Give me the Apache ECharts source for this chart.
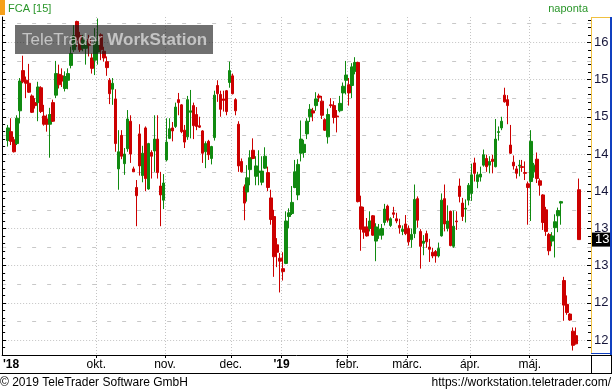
<!DOCTYPE html>
<html><head><meta charset="utf-8">
<script src="https://cdn.jsdelivr.net/npm/echarts@6/dist/echarts.min.js"></script>
<style>html,body{margin:0;padding:0;background:#fff}#c{width:612px;height:392px}</style>
</head><body><div id="c"></div>
<script>
const title = 'FCA [15]';
const periodLabel = 'naponta';
const watermarkA = 'TeleTrader ';
const watermarkB = 'WorkStation';
const footerLeft = '\u00a9 2019 TeleTrader Software GmbH';
const footerRight = 'https://workstation.teletrader.com/';

// daily candles, one per trading day (index 0 = first visible day)
const opens = [14.68,14.80,14.69,14.64,15.08,15.62,15.49,15.45,15.28,15.19,15.19,15.39,15.01,14.97,14.90,15.19,15.29,15.57,15.55,15.38,15.49,15.69,15.90,16.28,16.09,15.92,15.92,16.04,15.79,15.76,15.87,16.10,15.88,15.74,15.49,15.37,15.24,14.30,14.75,14.37,14.57,14.94,14.30,14.05,14.77,14.21,14.85,14.03,14.52,14.54,14.70,14.07,13.88,14.42,14.71,14.85,14.87,15.23,15.16,14.82,14.73,15.06,15.15,15.03,14.88,14.81,14.53,14.67,14.44,14.72,15.42,15.30,15.24,15.35,15.46,15.55,15.23,14.90,14.40,14.06,13.99,14.29,14.55,14.20,14.25,14.12,14.31,14.25,13.91,13.66,13.28,13.10,12.96,13.03,13.66,13.70,14.05,13.95,14.51,14.52,14.77,15.00,15.08,15.15,15.28,15.21,14.96,14.73,15.16,15.15,15.01,15.08,15.32,15.49,15.43,15.42,15.61,15.73,13.79,13.52,13.52,13.50,13.67,13.33,13.41,13.41,13.58,13.80,13.54,13.71,13.63,13.54,13.46,13.56,13.50,13.35,13.43,13.90,13.46,13.30,13.43,13.25,13.18,13.19,13.13,13.40,13.90,13.50,13.73,13.26,13.60,14.07,13.84,13.76,13.88,13.97,14.38,14.13,14.19,14.35,14.44,14.35,14.43,14.33,14.79,14.85,15.29,15.23,14.62,14.39,14.30,14.34,14.33,14.25,14.10,14.13,14.26,14.43,14.14,13.95,13.75,13.42,13.33,13.51,13.67,13.84,12.80,12.48,12.35,12.12,12.06,14.02];
const closes = [14.85,14.67,14.53,14.98,15.48,15.47,15.45,15.33,15.06,15.15,15.40,15.07,14.90,14.90,15.03,14.94,15.58,15.43,15.48,15.54,15.58,15.85,16.09,16.03,15.90,16.03,16.01,15.96,15.65,15.99,16.01,15.90,15.79,15.66,15.31,15.45,14.64,14.53,14.47,14.50,14.97,14.50,14.26,13.94,14.34,14.51,14.17,14.64,14.47,14.70,14.25,13.95,14.11,14.66,14.84,14.81,15.13,15.19,14.80,14.66,15.23,15.08,14.88,14.87,14.86,14.51,14.64,14.49,14.60,15.29,15.31,15.10,15.22,15.07,15.62,15.31,15.08,14.34,14.26,13.84,14.18,14.45,14.44,14.34,14.27,14.27,14.47,14.05,13.62,13.12,13.18,13.06,12.92,13.60,13.71,13.85,14.26,14.36,14.70,14.63,14.94,15.10,15.05,15.24,15.26,15.02,14.82,15.03,15.15,14.99,15.00,15.18,15.41,15.56,15.32,15.67,15.73,13.86,13.49,13.45,13.40,13.60,13.41,13.52,13.49,13.50,13.76,13.61,13.63,13.69,13.60,13.51,13.49,13.43,13.32,13.42,13.89,13.61,13.26,13.33,13.32,13.22,13.13,13.13,13.23,13.88,13.56,13.60,13.27,13.53,13.59,13.93,13.66,13.77,14.08,14.22,14.24,14.22,14.23,14.49,14.33,14.40,14.40,14.70,14.80,14.94,15.20,15.15,14.51,14.34,14.24,14.35,14.32,14.24,14.05,14.67,14.35,14.17,14.08,13.58,13.46,13.20,13.40,13.59,13.74,13.86,12.47,12.37,12.27,11.93,11.95,13.35];
const lows = [14.60,14.62,14.52,14.62,14.91,15.45,15.25,15.32,15.05,15.11,14.94,15.05,14.88,14.80,14.45,14.93,15.25,15.38,15.40,15.34,15.37,15.65,15.87,15.94,15.87,15.88,15.70,15.81,15.58,15.56,15.70,15.76,15.74,15.55,15.17,15.16,14.53,14.02,14.43,14.22,14.53,14.38,14.26,13.53,14.21,14.12,14.00,14.02,14.17,14.26,14.17,13.53,13.76,14.40,14.70,14.67,14.85,15.02,14.78,14.58,14.69,14.71,14.70,14.82,14.85,14.38,14.31,14.42,14.36,14.68,15.20,15.00,15.07,15.02,15.39,15.30,15.02,14.26,14.25,13.61,13.86,14.08,14.43,14.08,14.08,14.08,14.30,14.00,13.55,12.85,12.98,12.64,12.80,13.02,13.50,13.68,14.04,13.88,14.40,14.45,14.70,14.93,14.94,15.08,15.20,14.97,14.81,14.64,15.12,14.91,14.79,15.06,15.08,15.30,15.15,15.25,15.57,13.85,13.20,13.36,13.39,13.46,13.40,13.06,13.36,13.35,13.54,13.58,13.52,13.64,13.57,13.43,13.41,13.41,13.27,13.24,13.37,13.51,12.96,13.14,13.24,13.05,13.10,13.04,13.11,13.39,13.46,13.46,13.26,13.24,13.48,13.85,13.60,13.58,13.81,13.87,14.13,14.04,14.13,14.33,14.26,14.24,14.24,14.32,14.68,14.82,15.19,14.90,14.50,14.29,14.17,14.20,14.26,14.15,13.55,13.60,14.18,14.11,13.94,13.48,13.40,13.14,13.26,13.11,13.45,13.55,12.26,12.34,12.26,11.86,11.94,13.35];
const highs = [14.89,14.98,14.73,15.02,15.52,15.82,15.54,15.71,15.30,15.25,15.47,15.41,15.16,15.03,15.12,15.23,15.75,15.70,15.65,15.61,15.65,15.94,16.23,16.29,16.14,16.10,16.12,16.10,15.85,16.19,16.32,16.12,15.94,15.81,15.52,15.52,15.37,14.82,14.82,14.58,15.09,15.02,14.33,14.15,14.90,14.61,14.87,14.65,14.55,15.02,15.02,14.26,14.23,14.98,14.98,14.93,15.19,15.32,15.17,14.89,15.28,15.36,15.19,15.13,15.00,14.82,14.67,14.69,14.61,15.35,15.49,15.35,15.35,15.36,15.74,15.58,15.25,14.94,14.44,14.09,14.35,14.55,14.71,14.47,14.55,14.47,14.59,14.33,14.02,13.75,13.37,13.17,13.18,13.73,13.77,14.07,14.42,14.43,14.95,14.69,14.98,15.17,15.12,15.33,15.31,15.28,14.98,15.11,15.25,15.21,15.09,15.28,15.46,15.75,15.52,15.72,15.80,15.74,13.94,13.79,13.64,13.73,13.68,13.57,13.56,13.56,13.83,13.82,13.65,13.79,13.71,13.63,13.54,13.68,13.54,13.50,14.09,13.93,13.49,13.41,13.47,13.36,13.24,13.21,13.31,13.97,14.09,13.81,13.74,13.74,13.73,14.17,13.91,13.89,14.11,14.37,14.45,14.26,14.33,14.56,14.49,14.47,14.49,14.97,14.87,15.00,15.39,15.29,14.89,14.48,14.34,14.42,14.42,14.40,14.13,14.82,14.38,14.52,14.17,13.96,13.79,13.44,13.45,13.69,13.78,13.87,12.85,12.60,12.36,12.17,12.17,14.17];

// x axis: month boundaries (in trading-day index units) and labels
const monthBounds = [29.5, 52.5, 74.5, 91.5, 113.5, 133.5, 154.5, 174.5];
const xLabelPos = [1, 29.5, 52.5, 74.5, 91.5, 113.5, 133.5, 154.5, 174.5];
const xLabels = ["'18", 'okt.', 'nov.', 'dec.', "'19", 'febr.', 'márc.', 'ápr.', 'máj.'];
const yearLabels = ["'18", "'19"];

// y axis ticks and their (truncated) labels
const yTickValues = [12, 12.5, 13, 13.5, 14, 14.5, 15, 15.5, 16];
const yTickLabels = ['12', '12', '13', '13', '14', '14', '15', '15', '16'];
const yQuarterLines = [12.25, 12.75, 13.25, 13.75, 14.25, 14.75, 15.25, 15.75, 16.25];
const lastPriceLabel = '13';

const Y_MIN = 11.8, Y_MAX = 16.34;
const yMinorTicks = [];
for (let k = 118; k <= 163; k++) yMinorTicks.push(k / 10);

const FONT = 'Arial, "Liberation Sans", sans-serif';
const candleData = opens.map((o, i) => [i, o, closes[i], lows[i], highs[i]]);

function yAxisBase(extra) {
  return Object.assign({
    type: 'value', min: Y_MIN, max: Y_MAX, scale: true,
    axisLine: { show: false, onZero: false },
    axisTick: { show: false },
    axisLabel: { show: false },
    splitLine: { show: false }
  }, extra);
}

const WM = 'rgba(228,228,228,0.72)';

const chart = echarts.init(document.getElementById('c'), null, { renderer: 'canvas' });
chart.setOption({
  animation: false,
  backgroundColor: '#fff',
  grid: { left: 0, right: 21, top: 17, bottom: 37, containLabel: false },
  xAxis: {
    type: 'value', min: -2, max: 195,
    axisLine: { show: true, onZero: false, lineStyle: { color: '#000', width: 1 } },
    axisTick: { show: true, customValues: monthBounds, length: 3, lineStyle: { color: '#000' } },
    axisLabel: {
      customValues: xLabelPos, margin: 4, color: '#000', fontSize: 12, fontFamily: FONT,
      formatter: function (v) {
        const idx = xLabelPos.indexOf(v);
        const t = idx >= 0 ? xLabels[idx] : '';
        return yearLabels.indexOf(t) >= 0 ? '{b|' + t + '}' : t;
      },
      rich: { b: { fontWeight: 'bold', fontSize: 12, fontFamily: FONT, color: '#000' } }
    },
    splitLine: { show: true, lineStyle: { color: '#c4c4c4', type: [1, 2], width: 1 } }
  },
  yAxis: [
    yAxisBase({
      position: 'right',
      axisTick: { show: true, inside: true, length: 4, customValues: yTickValues, lineStyle: { color: '#000' } },
      axisLabel: {
        show: true, customValues: yTickValues, margin: 3, color: '#15153a', fontSize: 13, fontFamily: FONT,
        formatter: function (v) { const i = yTickValues.indexOf(v); return i >= 0 ? yTickLabels[i] : ''; }
      },
      splitLine: { show: true, lineStyle: { color: '#c4c4c4', type: [1, 2], width: 1 } }
    }),
    yAxisBase({
      position: 'right',
      axisTick: { show: true, inside: true, length: 3, customValues: yMinorTicks, lineStyle: { color: '#000' } }
    }),
    yAxisBase({
      position: 'right',
      axisTick: { show: false, customValues: yQuarterLines },
      splitLine: { show: true, lineStyle: { color: '#c8c8c8', type: [4, 11], width: 1 } }
    }),
    yAxisBase({
      position: 'left',
      axisLine: { show: true, onZero: false, lineStyle: { color: '#000' } },
      axisTick: { show: true, inside: true, length: 4, customValues: yTickValues, lineStyle: { color: '#000' } }
    }),
    yAxisBase({
      position: 'left',
      axisTick: { show: true, inside: true, length: 3, customValues: yMinorTicks, lineStyle: { color: '#000' } }
    })
  ],
  series: [{
    type: 'candlestick',
    xAxisIndex: 0, yAxisIndex: 0,
    data: candleData,
    encode: { x: 0, y: [1, 2, 3, 4] },
    barWidth: 3,
    itemStyle: {
      color: '#108a10', color0: '#cc0000',
      borderColor: '#108a10', borderColor0: '#cc0000', borderWidth: 1
    },
    z: 3,
    markLine: {
      silent: true, symbol: 'none', animation: false,
      data: [{ yAxis: closes[closes.length - 1] }],
      lineStyle: { color: 'transparent', width: 0 },
      label: {
        show: true, position: 'end', distance: 1, formatter: lastPriceLabel,
        backgroundColor: '#000', color: '#fff', fontSize: 13, fontFamily: FONT,
        padding: [1, 4, 0, 3]
      }
    }
  }],
  graphic: [
    { type: 'rect', shape: { x: 0, y: 0, width: 5, height: 15 }, style: { fill: '#f5a01a' }, z: 10 },
    { type: 'text', x: 8, y: 3, style: { text: title, fill: '#2a962a', font: '11px ' + FONT, textVerticalAlign: 'top' }, z: 10 },
    { type: 'text', x: 588, y: 3, style: { text: periodLabel, fill: '#2a962a', font: '11px ' + FONT, textAlign: 'right', textVerticalAlign: 'top' }, z: 10 },
    { type: 'rect', shape: { x: 15, y: 25, width: 198, height: 29 }, style: { fill: 'rgba(25,25,25,0.62)' }, z: 50 },
    { type: 'text', x: 22, y: 40, z: 51, style: {
        text: '{a|' + watermarkA + '}{b|' + watermarkB + '}', textVerticalAlign: 'middle',
        rich: {
          a: { fontSize: 17, fontFamily: FONT, fill: WM, color: WM },
          b: { fontSize: 17, fontWeight: 'bold', fontFamily: FONT, fill: WM, color: WM }
        } } },
    // right axis frame
    { type: 'line', shape: { x1: 591, y1: 17.5, x2: 611, y2: 17.5 }, style: { stroke: '#f0c040', lineWidth: 1 }, z: 20 },
    { type: 'line', shape: { x1: 591.5, y1: 17, x2: 591.5, y2: 354 }, style: { stroke: '#f0c040', lineWidth: 1 }, z: 20 },
    { type: 'line', shape: { x1: 611, y1: 17, x2: 611, y2: 355 }, style: { stroke: '#1040c0', lineWidth: 2 }, z: 20 },
    { type: 'line', shape: { x1: 591, y1: 353.5, x2: 612, y2: 353.5 }, style: { stroke: '#1040c0', lineWidth: 1 }, z: 20 },
    // axis band lines
    { type: 'line', shape: { x1: 591, y1: 355.5, x2: 612, y2: 355.5 }, style: { stroke: '#000', lineWidth: 1 }, z: 20 },
    { type: 'line', shape: { x1: 0, y1: 373.5, x2: 612, y2: 373.5 }, style: { stroke: '#000', lineWidth: 1 }, z: 20 },
    { type: 'line', shape: { x1: 591.5, y1: 355, x2: 591.5, y2: 373 }, style: { stroke: '#000', lineWidth: 1 }, z: 20 },
    { type: 'line', shape: { x1: 611.5, y1: 355, x2: 611.5, y2: 373 }, style: { stroke: '#000', lineWidth: 1 }, z: 20 },
    // footer
    { type: 'text', x: 0, y: 383, style: { text: footerLeft, fill: '#000', font: '12px ' + FONT, textVerticalAlign: 'middle' }, z: 10 },
    { type: 'text', x: 611, y: 383, style: { text: footerRight, fill: '#000', font: '12px ' + FONT, textAlign: 'right', textVerticalAlign: 'middle' }, z: 10 }
  ]
});
</script>
</body></html>
